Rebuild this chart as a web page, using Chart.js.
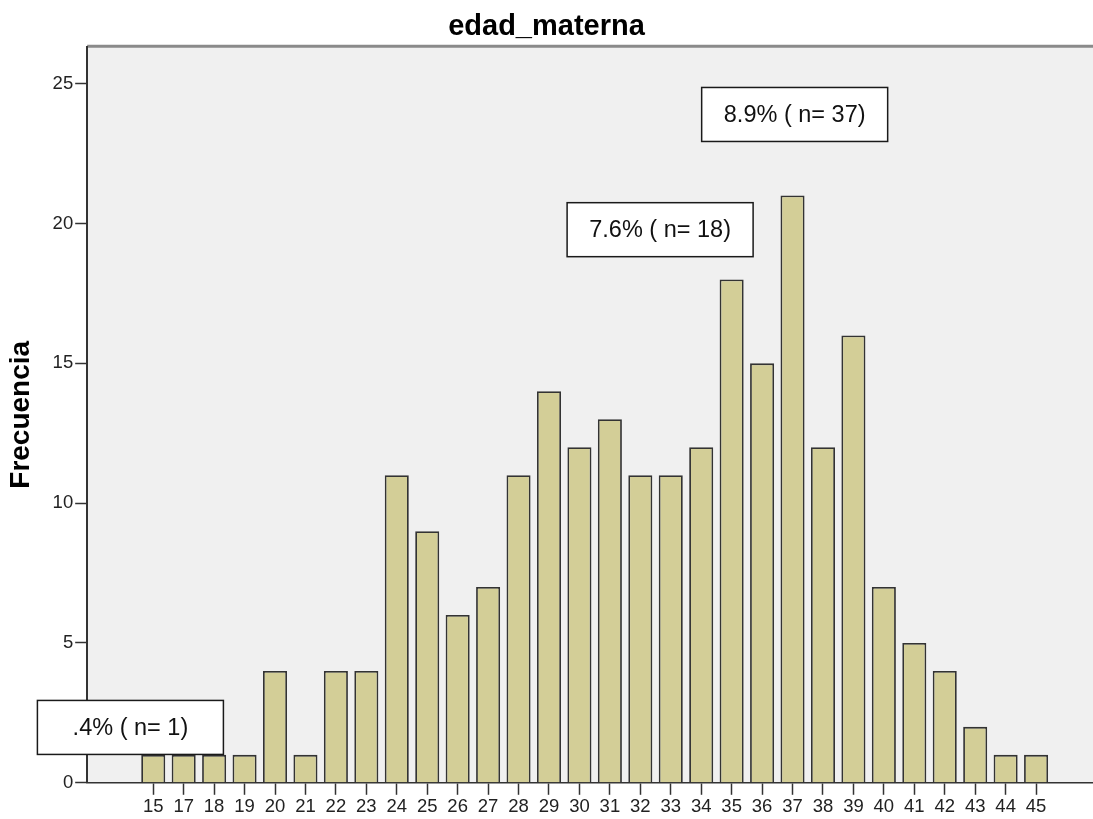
<!DOCTYPE html>
<html>
<head>
<meta charset="utf-8">
<title>edad_materna</title>
<script src="https://cdn.jsdelivr.net/npm/chart.js@4.4.1/dist/chart.umd.min.js"></script>
<style>
    html, body { margin: 0; padding: 0; background: #fff; }
    #wrap { width: 1093px; height: 819px; position: relative; }
</style>
</head>
<body>
<div id="wrap"><canvas id="chart"></canvas></div>
<script>
// ages on the x axis (there is no 16 in the data)
const ages = ['15', '17', '18', '19', '20', '21', '22', '23', '24', '25', '26', '27', '28', '29', '30',
              '31', '32', '33', '34', '35', '36', '37', '38', '39', '40', '41', '42', '43', '44', '45'];
const counts = [1, 1, 1, 1, 4, 1, 4, 4, 11, 9, 6, 7, 11, 14, 12,
                13, 11, 11, 12, 18, 15, 21, 12, 16, 7, 5, 4, 2, 1, 1];
const yTicks = [0, 5, 10, 15, 20, 25];
const noteTexts = ['.4% ( n= 1)', '7.6% ( n= 18)', '8.9% ( n= 37)'];

const FONT = "'Liberation Sans', Arial, sans-serif";

// where the callout boxes sit, in axis units (x = bar index, y = count)
const notePlaces = [
    { x: -0.75, y: 1.98 },
    { x: 16.65, y: 19.78 },
    { x: 21.07, y: 23.9 },
];

const plotFrame = {
    id: 'plotFrame',
    beforeDraw(chart) {
        const { ctx, chartArea: a } = chart;
        ctx.save();
        ctx.fillStyle = '#f0f0f0';
        ctx.fillRect(a.left, a.top, a.right - a.left, a.bottom - a.top);
        ctx.strokeStyle = '#8a8a8a';
        ctx.lineWidth = 3;
        ctx.beginPath();
        ctx.moveTo(a.left, a.top - 0.5);
        ctx.lineTo(a.right, a.top - 0.5);
        ctx.stroke();
        ctx.restore();
    }
};

const callouts = {
    id: 'callouts',
    afterDraw(chart) {
        const { ctx } = chart;
        const xs = chart.scales.x, ys = chart.scales.y;
        const w = 186, h = 54;
        ctx.save();
        ctx.font = '23.5px ' + FONT;
        ctx.textAlign = 'center';
        ctx.textBaseline = 'middle';
        noteTexts.forEach((txt, i) => {
            const cx = xs.getPixelForValue(notePlaces[i].x);
            const cy = ys.getPixelForValue(notePlaces[i].y);
            ctx.fillStyle = '#ffffff';
            ctx.fillRect(cx - w / 2, cy - h / 2, w, h);
            ctx.strokeStyle = '#1a1a1a';
            ctx.lineWidth = 1.5;
            ctx.strokeRect(cx - w / 2, cy - h / 2, w, h);
            ctx.fillStyle = '#111';
            ctx.fillText(txt, cx, cy + 1);
        });
        ctx.restore();
    }
};

let ctx = document.getElementById('chart');
let chart = new Chart(ctx, {
    type: 'bar',
    data: {
        datasets: [{
            data: counts.map((v, i) => ({ x: i, y: v })),
            backgroundColor: '#d3ce97',
            borderColor: '#333',
            borderWidth: 1.8,
            categoryPercentage: 1,
            barPercentage: 0.79,
        }]
    },
    options: {
        responsive: true,
        maintainAspectRatio: false,
        animation: false,
        layout: { padding: 0 },
        plugins: {
            legend: { display: false },
            tooltip: { enabled: false },
            title: {
                display: true,
                text: 'edad_materna',
                color: '#000',
                font: { family: FONT, size: 29, weight: 'bold' },
                padding: { top: 10, bottom: 2 },
            },
        },
        scales: {
            x: {
                type: 'linear',
                offset: false,
                min: -2.17,
                max: 30.87,
                afterBuildTicks: (axis) => {
                    axis.ticks = ages.map((a, i) => ({ value: i }));
                },
                ticks: {
                    autoSkip: false,
                    maxRotation: 0,
                    padding: 1,
                    color: '#222',
                    font: { family: FONT, size: 18.5 },
                    callback: (value) => ages[value],
                },
                grid: {
                    offset: false,
                    drawOnChartArea: false,
                    drawTicks: true,
                    tickLength: 12,
                    tickColor: '#333',
                    tickWidth: 1.5,
                },
                border: { display: true, color: '#333', width: 1.5 },
            },
            y: {
                min: 0,
                max: 26.32,
                afterBuildTicks: (axis) => {
                    axis.ticks = yTicks.map(v => ({ value: v }));
                },
                ticks: {
                    padding: 2,
                    color: '#222',
                    font: { family: FONT, size: 18.5 },
                },
                grid: {
                    drawOnChartArea: false,
                    drawTicks: true,
                    tickLength: 12,
                    tickColor: '#333',
                    tickWidth: 1.5,
                },
                border: { display: true, color: '#333', width: 2 },
                title: {
                    display: true,
                    text: 'Frecuencia',
                    color: '#000',
                    font: { family: FONT, size: 28, weight: 'bold' },
                    padding: { top: 4, bottom: 13 },
                },
            }
        }
    },
    plugins: [plotFrame, callouts]
});
</script>
</body>
</html>
